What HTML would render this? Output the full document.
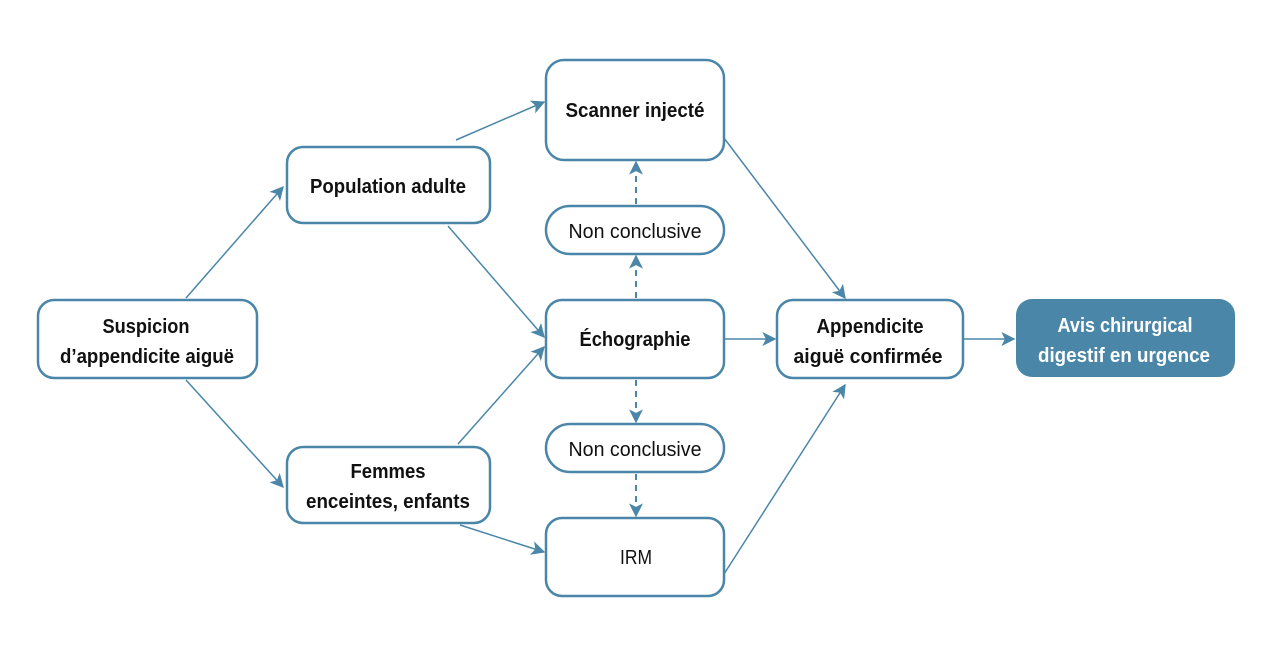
<!DOCTYPE html>
<html><head><meta charset="utf-8"><style>
html,body{margin:0;padding:0;background:#fff;}
svg text{font-family:"Liberation Sans",sans-serif;font-size:20px;fill:#111;text-anchor:middle;}
</style></head><body>
<svg width="1280" height="652" viewBox="0 0 1280 652" xmlns="http://www.w3.org/2000/svg">
<defs>
<marker id="a" viewBox="0 0 10 10" refX="9" refY="5" markerWidth="14" markerHeight="14" markerUnits="userSpaceOnUse" orient="auto">
<path d="M0,0 L10,5 L0,10 L2.5,5 z" fill="#4a86a8"/></marker>
</defs>
<g fill="#fff" stroke="#4a86a8" stroke-width="2.5">
<rect x="38" y="300" width="219" height="78" rx="16"/>
<rect x="287" y="147" width="203" height="76" rx="16"/>
<rect x="287" y="447" width="203" height="76" rx="16"/>
<rect x="546" y="60" width="178" height="100" rx="18"/>
<rect x="546" y="206" width="178" height="48" rx="24"/>
<rect x="546" y="300" width="178" height="78" rx="16"/>
<rect x="546" y="424" width="178" height="48" rx="24"/>
<rect x="546" y="518" width="178" height="78" rx="16"/>
<rect x="777" y="300" width="186" height="78" rx="16"/>
</g>
<rect x="1016" y="299" width="219" height="78" rx="16" fill="#4a86a8"/>
<g stroke="#4a86a8" stroke-width="1.5" fill="none" marker-end="url(#a)">
<line x1="186" y1="298" x2="283" y2="187"/>
<line x1="186" y1="380" x2="283" y2="487"/>
<line x1="456" y1="140" x2="544" y2="102"/>
<line x1="448" y1="226" x2="544" y2="337"/>
<line x1="458" y1="444" x2="544" y2="347"/>
<line x1="460" y1="525" x2="544" y2="552"/>
<line x1="724" y1="138" x2="845" y2="298"/>
<line x1="724" y1="574" x2="845" y2="385"/>
<line x1="724" y1="339" x2="775" y2="339"/>
<line x1="963" y1="339" x2="1014" y2="339"/>
</g>
<g stroke="#4a86a8" stroke-width="2" fill="none" stroke-dasharray="6,5" marker-end="url(#a)">
<line x1="636" y1="298" x2="636" y2="256"/>
<line x1="636" y1="204" x2="636" y2="162"/>
<line x1="636" y1="380" x2="636" y2="422"/>
<line x1="636" y1="474" x2="636" y2="516"/>
</g>
<g style="font-weight:bold">
<text x="146" y="333" textLength="87" lengthAdjust="spacingAndGlyphs">Suspicion</text>
<text x="147" y="363" textLength="174" lengthAdjust="spacingAndGlyphs">d’appendicite aiguë</text>
<text x="388" y="193" textLength="156" lengthAdjust="spacingAndGlyphs">Population adulte</text>
<text x="388" y="478" textLength="75" lengthAdjust="spacingAndGlyphs">Femmes</text>
<text x="388" y="508" textLength="164" lengthAdjust="spacingAndGlyphs">enceintes, enfants</text>
<text x="635" y="117" textLength="139" lengthAdjust="spacingAndGlyphs">Scanner injecté</text>
<text x="635" y="346" textLength="111" lengthAdjust="spacingAndGlyphs">Échographie</text>
<text x="870" y="333" textLength="107" lengthAdjust="spacingAndGlyphs">Appendicite</text>
<text x="868" y="363" textLength="149" lengthAdjust="spacingAndGlyphs">aiguë confirmée</text>
<text x="1125" y="332" textLength="135" lengthAdjust="spacingAndGlyphs" style="fill:#fff">Avis chirurgical</text>
<text x="1124" y="362" textLength="172" lengthAdjust="spacingAndGlyphs" style="fill:#fff">digestif en urgence</text>
</g>
<text x="635" y="238" textLength="133" lengthAdjust="spacingAndGlyphs">Non conclusive</text>
<text x="635" y="456" textLength="133" lengthAdjust="spacingAndGlyphs">Non conclusive</text>
<text x="636" y="564" textLength="32" lengthAdjust="spacingAndGlyphs">IRM</text>
</svg>
</body></html>
